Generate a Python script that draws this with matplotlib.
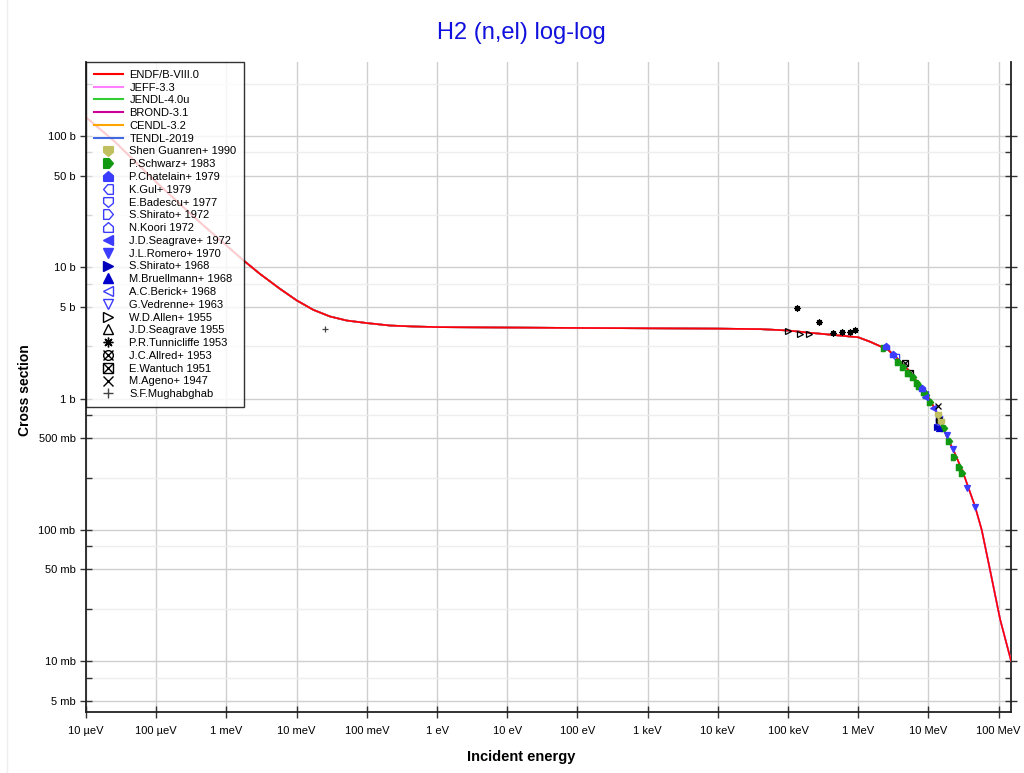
import matplotlib
matplotlib.use("Agg")
import matplotlib.pyplot as plt
from matplotlib.lines import Line2D
from matplotlib.legend_handler import HandlerTuple
from matplotlib.ticker import FixedLocator, NullFormatter

plt.rcParams['font.family'] = ['Liberation Sans', 'DejaVu Sans']

# evaluated curve (eV, barns)
energy = [1e-5, 2.6e-5, 1e-4, 4e-4, 1.71e-3, 3.01e-3, 5.8e-3, 1.0e-2, 1.73e-2, 2.99e-2,
          5.17e-2, 9.98e-2, 0.214, 0.46, 1.1, 100, 1e3, 1e4, 4e4,
          1e5, 2.06e5, 4.2e5, 1.0e6, 1.5e6, 2.0e6, 2.6e6, 3.5e6, 5.47e6, 7.5e6,
          1.05e7, 1.4e7, 1.84e7, 2.4e7, 3.14e7, 4.61e7, 5.74e7, 7.5e7, 1.05e8, 1.5e8]
xs_eval = [139, 90, 44.5, 22.5, 11.4, 8.9, 6.85, 5.6, 4.74, 4.22,
           3.93, 3.76, 3.60, 3.54, 3.50, 3.45, 3.43, 3.41, 3.38,
           3.3, 3.17, 3.06, 2.93, 2.7, 2.52, 2.38, 2.05, 1.6, 1.25,
           0.98, 0.73, 0.51, 0.379, 0.27, 0.151, 0.1, 0.0502, 0.0208, 0.0101]

libraries = ["ENDF/B-VIII.0", "JEFF-3.3", "JENDL-4.0u", "BROND-3.1", "CENDL-3.2", "TENDL-2019"]
lib_colors = ["#ff0000", "#ff80ff", "#33cc33", "#cc0099", "#ffa500", "#4169e1"]
lib_emax = [1.5e8, 1.5e8, 2e7, 2e7, 2e7, 1.5e8]

# experimental points (eV, barns)
shen_e, shen_xs = [1.37e7, 1.51e7], [0.753, 0.666]
schwarz_e = [2.33e6, 3.69e6, 4.35e6, 5.12e6, 6.04e6, 6.88e6, 7.35e6, 8.65e6, 9.25e6,
             1.05e7, 1.67e7, 1.96e7, 2.32e7, 2.73e7, 3.01e7]
schwarz_xs = [2.44, 1.91, 1.75, 1.57, 1.47, 1.32, 1.25, 1.13, 1.07,
              0.946, 0.60, 0.477, 0.36, 0.303, 0.272]
chatelain_e, chatelain_xs = [2.49e6, 3.13e6, 8.1e6], [2.52, 2.19, 1.21]
gul_e, gul_xs = [3.45e6], [2.08]
badescu_e, badescu_xs = [1.4e7], [0.70]
shirato72_e, shirato72_xs = [1.4e7], [0.68]
koori_e, koori_xs = [1.42e7], [0.67]
seagrave72_e, seagrave72_xs = [8.95e6, 1.16e7], [1.03, 0.851]
romero_e, romero_xs = [1.84e7, 2.24e7, 3.55e7, 4.61e7], [0.53, 0.415, 0.209, 0.150]
shirato68_e, shirato68_xs = [1.33e7], [0.61]
bruellmann_e, bruellmann_xs = [1.41e7], [0.60]
berick_e, berick_xs = [9.0e6], [1.08]
vedrenne_e, vedrenne_xs = [1.4e7], [0.69]
allen_e, allen_xs = [1.0e5, 1.48e5, 2.0e5], [3.25, 3.1, 3.1]
seagrave55_e, seagrave55_xs = [1.4e7], [0.70]
tunnicliffe_e = [1.34e5, 2.76e5, 4.4e5, 5.9e5, 7.6e5, 8.9e5]
tunnicliffe_xs = [4.86, 3.8, 3.14, 3.2, 3.2, 3.3]
allred_e, allred_xs = [1.4e7], [0.69]
wantuch_e, wantuch_xs = [4.64e6, 5.47e6], [1.87, 1.57]
ageno_e, ageno_xs = [1.37e7], [0.881]
mughabghab_e, mughabghab_xs = [0.0254], [3.4]

# "house" shaped pentagons
house_down = [(-1, 1), (1, 1), (1, -0.15), (0, -1), (-1, -0.15), (-1, 1)]
house_right = [(-1, 1), (0.15, 1), (1, 0), (0.15, -1), (-1, -1), (-1, 1)]
house_up = [(-1, -1), (1, -1), (1, 0.15), (0, 1), (-1, 0.15), (-1, -1)]
house_left = [(1, 1), (-0.15, 1), (-1, 0), (-0.15, -1), (1, -1), (1, 1)]

blue = "#3c3cff"
exp_sets = [
    ("Shen Guanren+ 1990", shen_e, shen_xs, [(house_down, "#c0c060", True)]),
    ("P.Schwarz+ 1983", schwarz_e, schwarz_xs, [(house_right, "#119911", True)]),
    ("P.Chatelain+ 1979", chatelain_e, chatelain_xs, [(house_up, blue, True)]),
    ("K.Gul+ 1979", gul_e, gul_xs, [(house_left, blue, False)]),
    ("E.Badescu+ 1977", badescu_e, badescu_xs, [(house_down, blue, False)]),
    ("S.Shirato+ 1972", shirato72_e, shirato72_xs, [(house_right, blue, False)]),
    ("N.Koori 1972", koori_e, koori_xs, [(house_up, blue, False)]),
    ("J.D.Seagrave+ 1972", seagrave72_e, seagrave72_xs, [("<", blue, True)]),
    ("J.L.Romero+ 1970", romero_e, romero_xs, [("v", blue, True)]),
    ("S.Shirato+ 1968", shirato68_e, shirato68_xs, [(">", "#0000bb", True)]),
    ("M.Bruellmann+ 1968", bruellmann_e, bruellmann_xs, [("^", "#0000cc", True)]),
    ("A.C.Berick+ 1968", berick_e, berick_xs, [("<", blue, False)]),
    ("G.Vedrenne+ 1963", vedrenne_e, vedrenne_xs, [("v", blue, False)]),
    ("W.D.Allen+ 1955", allen_e, allen_xs, [(">", "black", False)]),
    ("J.D.Seagrave 1955", seagrave55_e, seagrave55_xs, [("^", "black", False)]),
    ("P.R.Tunnicliffe 1953", tunnicliffe_e, tunnicliffe_xs, [((8, 2, 0), "black", True)]),
    ("J.C.Allred+ 1953", allred_e, allred_xs, [("o", "black", False), ("x", "black", True)]),
    ("E.Wantuch 1951", wantuch_e, wantuch_xs, [("s", "black", False), ("x", "black", True)]),
    ("M.Ageno+ 1947", ageno_e, ageno_xs, [("x", "black", True)]),
    ("S.F.Mughabghab", mughabghab_e, mughabghab_xs, [("+", "#444444", True)]),
]

fig = plt.figure(figsize=(10.24, 7.73), dpi=100)
ax = fig.add_axes([86 / 1024, 1 - 712 / 773, 925 / 1024, 650 / 773])

# library curves, ENDF on top
for i in range(len(libraries) - 1, -1, -1):
    e = [v for v in energy if v <= lib_emax[i]]
    s = xs_eval[:len(e)]
    ax.plot(e, s, color=lib_colors[i], lw=1.2, zorder=3 + (len(libraries) - i) * 0.01)

handles = [Line2D([], [], color=c, lw=1.5) for c in lib_colors]
labels = list(libraries)

# open markers first, filled ones above them
order = sorted(range(len(exp_sets)), key=lambda k: all(m[2] for m in exp_sets[k][3]))
for k in order:
    name, e, s, marks = exp_sets[k]
    for m, col, filled in marks:
        ax.plot(e, s, ls="none", marker=m, ms=4.5, mec=col, mew=0.9,
                mfc=col if filled else "none", zorder=4 if filled else 3.5)

for name, e, s, marks in exp_sets:
    hs = [Line2D([], [], ls="none", marker=m, ms=7, mec=col, mew=1.0,
                 mfc=col if filled else "none") for m, col, filled in marks]
    handles.append(hs[0] if len(hs) == 1 else tuple(hs))
    labels.append(name)

ax.set_xscale("log")
ax.set_yscale("log")
ax.set_xlim(1e-5, 1.5e8)
ax.set_ylim(4.1e-3, 366)

x_ticks = [1e-5, 1e-4, 1e-3, 1e-2, 1e-1, 1, 10, 100, 1e3, 1e4, 1e5, 1e6, 1e7, 1e8]
x_labels = ["10 µeV", "100 µeV", "1 meV", "10 meV", "100 meV", "1 eV", "10 eV", "100 eV",
            "1 keV", "10 keV", "100 keV", "1 MeV", "10 MeV", "100 MeV"]
y_ticks = [5e-3, 1e-2, 5e-2, 1e-1, 5e-1, 1, 5, 10, 50, 100]
y_labels = ["5 mb", "10 mb", "50 mb", "100 mb", "500 mb", "1 b", "5 b", "10 b", "50 b", "100 b"]
y_minor = [7.5e-3, 2.5e-2, 7.5e-2, 2.5e-1, 7.5e-1, 2.5, 7.5, 25, 75, 250]

ax.xaxis.set_major_locator(FixedLocator(x_ticks))
ax.set_xticklabels(x_labels)
ax.xaxis.set_minor_locator(FixedLocator([]))
ax.yaxis.set_major_locator(FixedLocator(y_ticks))
ax.set_yticklabels(y_labels)
ax.yaxis.set_minor_locator(FixedLocator(y_minor))
ax.yaxis.set_minor_formatter(NullFormatter())

ax.tick_params(which="major", direction="inout", length=8, width=1, labelsize=8,
               right=True, top=False, color="#333333")
ax.tick_params(which="minor", direction="in", length=4, width=1, right=True, color="#333333")
ax.tick_params(axis="x", pad=6)

ax.grid(True, which="major", color="#cfcfcf", lw=1)
ax.grid(True, which="minor", axis="y", color="#eeeeee", lw=1)
ax.set_axisbelow(True)
for sp in ax.spines.values():
    sp.set_linewidth(1.3)
    sp.set_color("#222222")
ax.spines["top"].set_visible(False)

leg = ax.legend(handles, labels, loc="upper left", bbox_to_anchor=(0, 1), borderaxespad=0,
                fontsize=8, labelspacing=0.25, handlelength=2.6, handletextpad=0.6,
                borderpad=0.7, fancybox=False, edgecolor="black", framealpha=0.8,
                handler_map={tuple: HandlerTuple(ndivide=1)})
leg.get_frame().set_linewidth(1.0)
leg.set_zorder(10)

fig.text(521 / 1024, 1 - 33 / 773, "H2 (n,el) log-log", color="#1111dd", fontsize=17,
         ha="center", va="center")
fig.text(521 / 1024, 1 - 757 / 773, "Incident energy", fontsize=10.5, fontweight="bold",
         ha="center", va="center")
fig.text(25 / 1024, 1 - 390 / 773, "Cross section", fontsize=10, fontweight="bold",
         rotation=90, ha="center", va="center")
fig.add_artist(Line2D([7 / 1024, 7 / 1024], [0, 1], color="#eeeeee", lw=1))

fig.savefig("out.png", dpi=100)
